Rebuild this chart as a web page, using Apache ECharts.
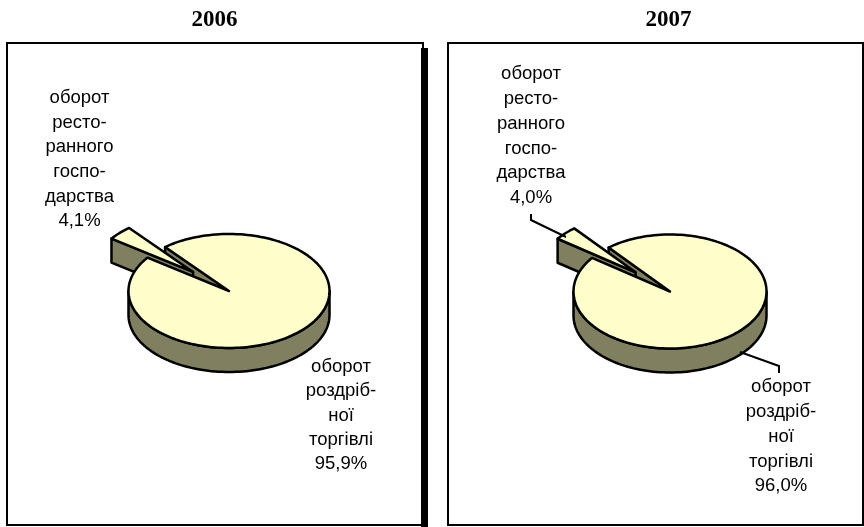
<!DOCTYPE html>
<html><head><meta charset="utf-8">
<style>html,body{margin:0;padding:0;background:#fff}#c{width:864px;height:527px}</style>
<script src="https://cdn.jsdelivr.net/npm/echarts@6/dist/echarts.min.js"></script>
</head><body><div id="c"></div>
<script>
const years = ['2006', '2007'];
const restaurantShare = [4.1, 4.0];
const retailShare = [95.9, 96.0];
const restaurantLabels = ['оборот\nресто-\nранного\nгоспо-\nдарства\n4,1%', 'оборот\nресто-\nранного\nгоспо-\nдарства\n4,0%'];
const retailLabels = ['оборот\nроздріб-\nної\nторгівлі\n95,9%', 'оборот\nроздріб-\nної\nторгівлі\n96,0%'];

// layout of each 3D pie
const pies = [
  {cx: 229, cy: 291, rx: 100.5, ry: 57, titleX: 214.5, top: [79.5, 85.5], bottom: [341, 355], bottomLH: 24.2, leaders: []},
  {cx: 670, cy: 291.5, rx: 96.5, ry: 57, titleX: 668.5, top: [531, 62], bottom: [781, 375], bottomLH: 24.7,
   leaders: [[[531, 214], [531, 220], [566, 237]], [[740, 352], [779, 366], [779, 373]]]}
];
const DEPTH = 24, EXPLODE = 0.49, START_DEG = 129.5;
const TOPC = '#FFFFCC', SIDE = '#808060';
const baseStyle = c => ({fill: c, stroke: '#000', lineWidth: 2.5, lineJoin: 'round'});

function pt(p, deg, ox, oy, dz) {
  const a = deg * Math.PI / 180;
  return [p.cx + ox + p.rx * Math.cos(a), p.cy + oy - p.ry * Math.sin(a) + (dz || 0)];
}
function arc(p, a0, a1, ox, oy, dz) {
  const pts = [], n = Math.max(4, Math.ceil(Math.abs(a1 - a0) / 2));
  for (let i = 0; i <= n; i++) pts.push(pt(p, a0 + (a1 - a0) * i / n, ox, oy, dz));
  return pts;
}
function poly(points, fill, z2) {
  return {type: 'polygon', z2, shape: {points}, style: baseStyle(fill)};
}

function renderPie(params, api) {
  const i = api.value(0), p = pies[i];
  const small = api.value(1), big = api.value(2);
  const total = small + big;
  const a0 = START_DEG, a1 = START_DEG + small / total * 360, mid = (a0 + a1) / 2;
  const m = mid * Math.PI / 180;
  const ox = EXPLODE * p.rx * Math.cos(m), oy = -EXPLODE * p.ry * Math.sin(m);
  const c = [p.cx, p.cy], cb = [p.cx, p.cy + DEPTH];
  const ec = [p.cx + ox, p.cy + oy], ecb = [ec[0], ec[1] + DEPTH];
  const children = [];
  // main slice: outer wall, then wall of the far cut
  const wallFrom = Math.max(a1, 180), wallTo = 360;
  children.push(poly(arc(p, wallFrom, wallTo, 0, 0, 0).concat(arc(p, wallTo, wallFrom, 0, 0, DEPTH)), SIDE, 1));
  children.push(poly([pt(p, a0, 0, 0), c, cb, pt(p, a0, 0, 0, DEPTH)], SIDE, 2));
  // exploded slice: side wall along its lower cut, then its top
  children.push(poly([pt(p, a1, ox, oy), ec, ecb, pt(p, a1, ox, oy, DEPTH)], SIDE, 3));
  children.push(poly([ec].concat(arc(p, a0, a1, ox, oy)), TOPC, 4));
  // main slice top surface
  children.push(poly([c].concat(arc(p, a1, a0 + 360, 0, 0)), TOPC, 5));
  // leader lines
  p.leaders.forEach(l => children.push({type: 'polyline', z2: 6, shape: {points: l},
    style: {fill: null, stroke: '#000', lineWidth: 2}}));
  // labels
  const txt = (s, pos, lh) => ({type: 'text', z2: 7, x: pos[0], y: pos[1], style: {
    text: s, fill: '#000', font: '18.5px "Liberation Sans", Arial, sans-serif',
    lineHeight: lh, align: 'center', verticalAlign: 'top'}});
  children.push(txt(restaurantLabels[i], p.top, 24.7), txt(retailLabels[i], p.bottom, p.bottomLH));
  return {type: 'group', children};
}

const chart = echarts.init(document.getElementById('c'), null, {renderer: 'canvas'});
const frame = (x, y, w, h) => ({type: 'rect', shape: {x, y, width: w, height: h},
  style: {fill: '#fff', stroke: '#000', lineWidth: 2}, z: -2});
chart.setOption({
  animation: false,
  backgroundColor: '#fff',
  title: years.map((y, i) => ({
    text: y, left: pies[i].titleX, top: 9, padding: 0, textAlign: 'center',
    textStyle: {fontFamily: '"Liberation Serif", "Times New Roman", serif', fontSize: 23, fontWeight: 'bold', color: '#000'}
  })),
  graphic: [
    {type: 'rect', shape: {x: 421, y: 48, width: 7, height: 479}, style: {fill: '#000'}, z: -1},
    frame(7, 43, 416, 482),
    frame(448, 43, 415, 482)
  ],
  series: [{
    type: 'custom',
    coordinateSystem: 'none',
    silent: true,
    renderItem: renderPie,
    data: years.map((y, i) => [i, restaurantShare[i], retailShare[i]])
  }]
});
</script></body></html>
